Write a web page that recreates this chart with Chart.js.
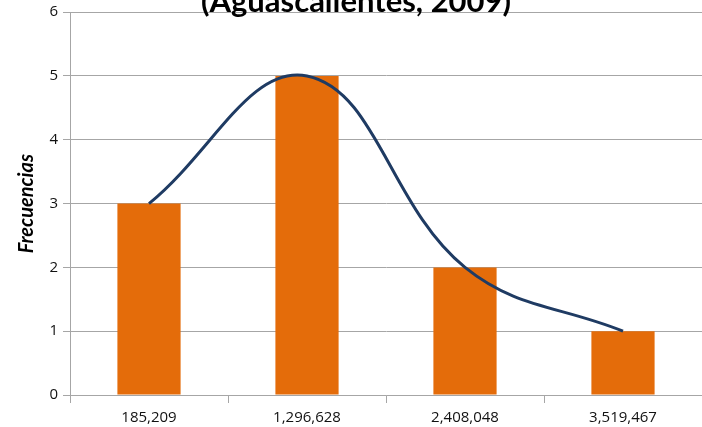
<!DOCTYPE html>
<html>
<head>
<meta charset="utf-8">
<script src="https://cdn.jsdelivr.net/npm/chart.js@4/dist/chart.umd.min.js"></script>
<style>
  html, body { margin:0; padding:0; background:#fff; }
  #wrap { position:relative; width:702px; height:427px; overflow:hidden; }
  #chart { position:absolute; left:0; top:-20px; }
</style>
</head>
<body>
<div id="wrap"><canvas id="chart" width="702" height="455"></canvas></div>
<script>
// ── Data ──────────────────────────────────────────────
const categories  = ["185,209", "1,296,628", "2,408,048", "3,519,467"];
const frecuencias = [3, 5, 2, 1];
const curva       = [3, 5, 2, 1];
const yTicks      = [0, 1, 2, 3, 4, 5, 6];

const FONT = "Lato, 'Open Sans', sans-serif";
const TICK_FONT = "'Open Sans', sans-serif";

new Chart(document.getElementById("chart"), {
  data: {
    labels: categories,
    datasets: [
      {
        type: "line",
        data: curva,
        borderColor: "#1F3B63",
        borderWidth: 3,
        pointRadius: 0,
        tension: 0.4,
        fill: false,
        order: 0,
      },
      {
        type: "bar",
        data: frecuencias,
        backgroundColor: "#E46C0A",
        categoryPercentage: 1,
        barPercentage: 0.4,
        order: 1,
      }
    ]
  },
  options: {
    responsive: false,
    animation: false,
    layout: { padding: { left: 10, right: 0, top: 0, bottom: 2 } },
    plugins: {
      legend: { display: false },
      tooltip: { enabled: false },
      title: {
        display: true,
        text: "(Aguascalientes, 2009)",
        color: "#000",
        font: { family: FONT, size: 31, weight: "bold" },
        padding: { top: 3, bottom: -8 },
      }
    },
    scales: {
      x: {
        grid: { drawOnChartArea: false, drawTicks: true, tickLength: 8, color: "#A6A6A6" },
        border: { color: "#A6A6A6" },
        ticks: { color: "#111", font: { family: TICK_FONT, size: 15 }, padding: 6 },
      },
      y: {
        min: 0, max: 6,
        afterBuildTicks: s => { s.ticks = yTicks.map(v => ({ value: v })); },
        afterFit: s => { s.width = 60; },
        grid: { color: "#A6A6A6", tickLength: 7 },
        border: { color: "#A6A6A6" },
        ticks: { color: "#111", font: { family: TICK_FONT, size: 15 }, padding: 5 },
        title: {
          display: true,
          text: "Frecuencias",
          color: "#000",
          font: { family: FONT, size: 20, style: "italic", weight: "bold" },
          padding: { top: 5, bottom: 0 },
        }
      }
    }
  }
});
</script>
</body>
</html>
